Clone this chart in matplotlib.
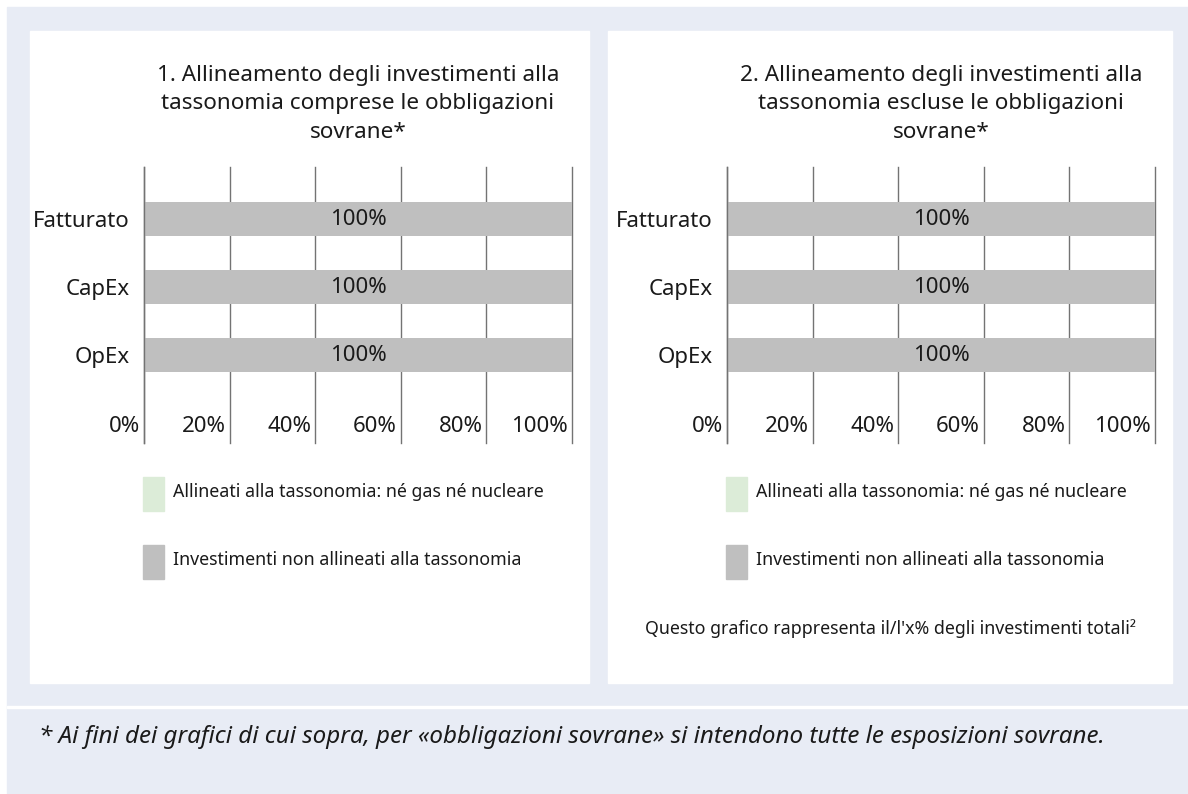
import matplotlib.pyplot as plt
from matplotlib.patches import Rectangle
import matplotlib.transforms as mtransforms

plt.rcParams['font.family'] = ['Noto Sans', 'DejaVu Sans']

# Data
categories = ['Fatturato', 'CapEx', 'OpEx']
aligned_incl = [0, 0, 0]
not_aligned_incl = [100, 100, 100]
aligned_excl = [0, 0, 0]
not_aligned_excl = [100, 100, 100]
x_ticks = [0, 20, 40, 60, 80, 100]
x_tick_labels = ['0%', '20%', '40%', '60%', '80%', '100%']

titles = [
    '1. Allineamento degli investimenti alla\ntassonomia comprese le obbligazioni\nsovrane*',
    '2. Allineamento degli investimenti alla\ntassonomia escluse le obbligazioni\nsovrane*',
]
legend_labels = ['Allineati alla tassonomia: né gas né nucleare',
                 'Investimenti non allineati alla tassonomia']
note_right = "Questo grafico rappresenta il/l'x% degli investimenti totali²"
footer = ('* Ai fini dei grafici di cui sopra, per «obbligazioni sovrane» '
          'si intendono tutte le esposizioni sovrane.')

GREEN = '#dcecd8'
GREY = '#bfbfbf'
GRID = '#737373'
BG = '#e8ecf5'
TXT = '#1a1a1a'

W, H = 1188, 794
fig = plt.figure(figsize=(W / 100, H / 100), dpi=100)


def fx(px):
    return px / W


def fy(py):
    return 1 - py / H


def rect(x0, y0, x1, y1, color, z=-10):
    fig.patches.append(Rectangle((fx(x0), fy(y1)), (x1 - x0) / W, (y1 - y0) / H,
                                 transform=fig.transFigure, color=color, zorder=z))


# background blocks
rect(7, 7, W, H, BG)
rect(30, 31, 589, 683, 'white', -9)
rect(608, 31, 1172, 683, 'white', -9)
rect(7, 706, W, 708, 'white', -9)

panels = [
    (144, aligned_incl, not_aligned_incl, titles[0], False),
    (727, aligned_excl, not_aligned_excl, titles[1], True),
]

for left_px, aligned, not_aligned, title, has_note in panels:
    ax = fig.add_axes([fx(left_px), fy(443), 428 / W, (443 - 167) / H])
    ax.set_facecolor('none')
    y = list(range(len(categories)))

    for v in x_ticks:
        ax.axvline(v, color=GRID, lw=1, zorder=0, clip_on=False)
    ax.axvline(0, color=GRID, lw=1, zorder=3, clip_on=False)

    ax.barh(y, aligned, height=0.5, color=GREEN, zorder=2)
    ax.barh(y, not_aligned, left=aligned, height=0.5, color=GREY, zorder=2)
    for yi, a, n in zip(y, aligned, not_aligned):
        if n > 0:
            ax.text(a + n / 2, yi, f'{n}%', ha='center', va='center',
                    fontsize=16, color=TXT, zorder=4)

    ax.set_xlim(0, 100)
    ax.set_ylim(3.287, -0.772)
    ax.set_yticks(y, categories)
    ax.tick_params(axis='y', length=0, pad=10, labelsize=16, labelcolor=TXT)
    ax.set_xticks([])
    for s in ax.spines.values():
        s.set_visible(False)

    off = mtransforms.offset_copy(ax.transData, fig=fig, x=-4, y=0, units='dots')
    for v, lab in zip(x_ticks, x_tick_labels):
        ax.text(v, 3.04, lab, transform=off, ha='right', va='center',
                fontsize=16, color=TXT)

    fig.text(fx(left_px + 214), fy(104), title, ha='center', va='center',
             fontsize=16.2, color=TXT, linespacing=1.45)

    # legend swatches and labels
    for i, (col, lab) in enumerate(zip([GREEN, GREY], legend_labels)):
        cy = 494 + 68 * i
        rect(left_px - 1, cy - 17, left_px + 20, cy + 17, col, 1)
        fig.text(fx(left_px + 29), fy(cy - 2), lab, ha='left', va='center',
                 fontsize=12.8, color=TXT)

    if has_note:
        fig.text(fx(645), fy(629), note_right, ha='left', va='center',
                 fontsize=12.8, color=TXT)

fig.text(fx(39), fy(737), footer, ha='left', va='center', fontsize=17.4,
         style='italic', color=TXT)

fig.savefig('out.png', dpi=100, facecolor='white')
